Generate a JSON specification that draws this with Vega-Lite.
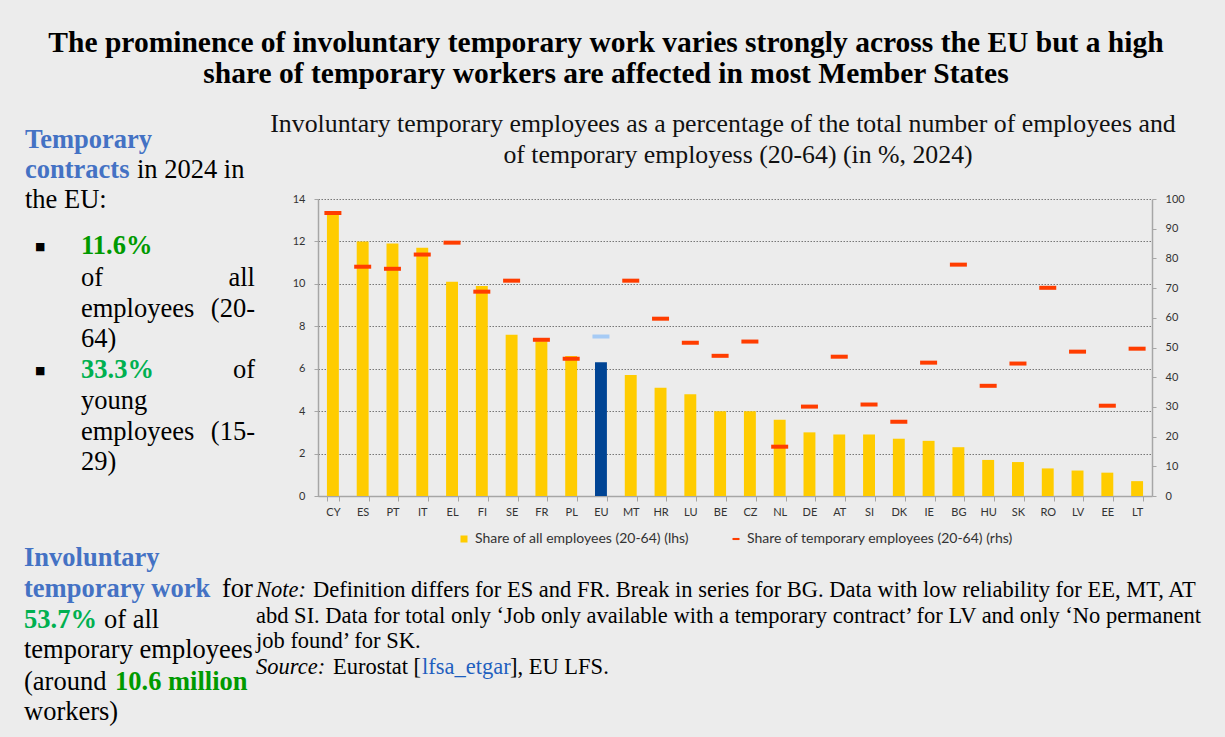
{
  "$schema": "https://vega.github.io/schema/vega-lite/v6.json",
  "width": 834,
  "height": 297,
  "autosize": {"type": "none"},
  "padding": {"left": 318, "top": 199, "right": 73, "bottom": 241},
  "background": "#ECECEC",
  "config": {
    "view": {"stroke": null},
    "axis": {"labelFont": "Lato", "labelFontSize": 11, "labelColor": "#333333", "domainColor": "#A6A6A6", "tickColor": "#A6A6A6", "domainWidth": 1.5, "title": null},
    "legend": {"labelFont": "Lato", "labelFontSize": 14, "labelColor": "#333333", "labelLimit": 0}
  },
  "data": {
    "values": [
      {"country": "CY", "lhs": 13.3, "rhs": 95.3},
      {"country": "ES", "lhs": 12.0, "rhs": 77.2},
      {"country": "PT", "lhs": 11.9, "rhs": 76.5},
      {"country": "IT", "lhs": 11.7, "rhs": 81.3},
      {"country": "EL", "lhs": 10.1, "rhs": 85.3},
      {"country": "FI", "lhs": 9.9, "rhs": 68.8},
      {"country": "SE", "lhs": 7.6, "rhs": 72.5},
      {"country": "FR", "lhs": 7.3, "rhs": 52.6},
      {"country": "PL", "lhs": 6.6, "rhs": 46.2},
      {"country": "EU", "lhs": 6.3, "rhs": 53.7},
      {"country": "MT", "lhs": 5.7, "rhs": 72.5},
      {"country": "HR", "lhs": 5.1, "rhs": 59.7},
      {"country": "LU", "lhs": 4.8, "rhs": 51.6},
      {"country": "BE", "lhs": 4.0, "rhs": 47.2},
      {"country": "CZ", "lhs": 4.0, "rhs": 52.0},
      {"country": "NL", "lhs": 3.6, "rhs": 16.6},
      {"country": "DE", "lhs": 3.0, "rhs": 30.1},
      {"country": "AT", "lhs": 2.9, "rhs": 46.9},
      {"country": "SI", "lhs": 2.9, "rhs": 30.8},
      {"country": "DK", "lhs": 2.7, "rhs": 25.0},
      {"country": "IE", "lhs": 2.6, "rhs": 44.9},
      {"country": "BG", "lhs": 2.3, "rhs": 77.9},
      {"country": "HU", "lhs": 1.7, "rhs": 37.1},
      {"country": "SK", "lhs": 1.6, "rhs": 44.6},
      {"country": "RO", "lhs": 1.3, "rhs": 70.1},
      {"country": "LV", "lhs": 1.2, "rhs": 48.6},
      {"country": "EE", "lhs": 1.1, "rhs": 30.4},
      {"country": "LT", "lhs": 0.7, "rhs": 49.6}
    ]
  },
  "resolve": {"scale": {"y": "independent"}},
  "layer": [
    {
      "mark": {"type": "bar"},
      "encoding": {
        "x": {"field": "country", "type": "nominal", "sort": null,
          "scale": {"paddingInner": 0.6, "paddingOuter": 0.3},
          "axis": {"labelAngle": 0, "tickBand": "extent", "tickSize": 5, "labelPadding": 5}},
        "y": {"field": "lhs", "type": "quantitative", "scale": {"domain": [0, 14]},
          "axis": {"orient": "left", "values": [0, 2, 4, 6, 8, 10, 12, 14], "grid": true, "gridDash": [1.5, 1.5], "gridColor": "#777777", "gridWidth": 1, "tickSize": 4, "labelPadding": 9}},
        "color": {
          "condition": {"test": "datum.country === 'EU'", "value": "#004494"},
          "datum": "Share of all employees (20-64) (lhs)",
          "scale": {"domain": ["Share of all employees (20-64) (lhs)", "Share of temporary employees (20-64) (rhs)"], "range": ["#FFCC00", "#FF3D00"]},
          "legend": {"orient": "none", "legendX": 139, "legendY": 333, "direction": "horizontal", "title": null, "symbolSize": 49, "columnPadding": 40, "labelOffset": 4, "symbolStrokeWidth": 0, "symbolOpacity": 1,
            "encode": {"symbols": {"update": {"shape": {"signal": "datum.value === 'Share of temporary employees (20-64) (rhs)' ? 'M-1,-0.3H1V0.3H-1Z' : 'square'"}}}}}
        }
      }
    },
    {
      "mark": {"type": "tick", "size": 17, "thickness": 4, "opacity": 1},
      "encoding": {
        "x": {"field": "country", "type": "nominal", "sort": null},
        "y": {"field": "rhs", "type": "quantitative", "scale": {"domain": [0, 100]},
          "axis": {"orient": "right", "values": [0, 10, 20, 30, 40, 50, 60, 70, 80, 90, 100], "grid": false, "tickSize": 4, "labelPadding": 9}},
        "color": {
          "condition": {"test": "datum.country === 'EU'", "value": "#A6CBF5"},
          "datum": "Share of temporary employees (20-64) (rhs)"
        }
      }
    },
    {"data": {"values": [{}]}, "mark": {"type": "text", "x": 288, "y": -147, "align": "center", "baseline": "alphabetic", "font": "Liberation Serif", "fontSize": 29.5, "fontWeight": "bold", "color": "#000000", "text": "The prominence of involuntary temporary work varies strongly across the EU but a high"}},
    {"data": {"values": [{}]}, "mark": {"type": "text", "x": 288, "y": -116, "align": "center", "baseline": "alphabetic", "font": "Liberation Serif", "fontSize": 29.5, "fontWeight": "bold", "color": "#000000", "text": "share of temporary workers are affected in most Member States"}},
    {"data": {"values": [{}]}, "mark": {"type": "text", "x": 405, "y": -67, "align": "center", "baseline": "alphabetic", "font": "Liberation Serif", "fontSize": 25.8, "color": "#111111", "text": "Involuntary temporary employees as a percentage of the total number of employees and"}},
    {"data": {"values": [{}]}, "mark": {"type": "text", "x": 420, "y": -36, "align": "center", "baseline": "alphabetic", "font": "Liberation Serif", "fontSize": 25.8, "color": "#111111", "text": "of temporary employess (20-64) (in %, 2024)"}},

    {"data": {"values": [{}]}, "mark": {"type": "text", "x": -293, "y": -51, "align": "left", "baseline": "alphabetic", "font": "Liberation Serif", "fontSize": 26.5, "fontWeight": "bold", "color": "#4472C4", "text": "Temporary"}},
    {"data": {"values": [{}]}, "mark": {"type": "text", "x": -293, "y": -21, "align": "left", "baseline": "alphabetic", "font": "Liberation Serif", "fontSize": 26.5, "fontWeight": "bold", "color": "#4472C4", "text": "contracts"}},
    {"data": {"values": [{}]}, "mark": {"type": "text", "x": -181, "y": -21, "align": "left", "baseline": "alphabetic", "font": "Liberation Serif", "fontSize": 26.5, "color": "#000000", "text": "in 2024 in"}},
    {"data": {"values": [{}]}, "mark": {"type": "text", "x": -293, "y": 9, "align": "left", "baseline": "alphabetic", "font": "Liberation Serif", "fontSize": 26.5, "color": "#000000", "text": "the EU:"}},
    {"data": {"values": [{}]}, "mark": {"type": "text", "x": -283, "y": 48, "align": "left", "baseline": "middle", "font": "DejaVu Sans", "fontSize": 11, "color": "#000000", "text": "■"}},
    {"data": {"values": [{}]}, "mark": {"type": "text", "x": -237, "y": 55, "align": "left", "baseline": "alphabetic", "font": "Liberation Serif", "fontSize": 26.5, "fontWeight": "bold", "color": "#009A00", "text": "11.6%"}},
    {"data": {"values": [{}]}, "mark": {"type": "text", "x": -237, "y": 87, "align": "left", "baseline": "alphabetic", "font": "Liberation Serif", "fontSize": 26.5, "color": "#000000", "text": "of"}},
    {"data": {"values": [{}]}, "mark": {"type": "text", "x": -63, "y": 87, "align": "right", "baseline": "alphabetic", "font": "Liberation Serif", "fontSize": 26.5, "color": "#000000", "text": "all"}},
    {"data": {"values": [{}]}, "mark": {"type": "text", "x": -237, "y": 118, "align": "left", "baseline": "alphabetic", "font": "Liberation Serif", "fontSize": 26.5, "color": "#000000", "text": "employees"}},
    {"data": {"values": [{}]}, "mark": {"type": "text", "x": -63, "y": 118, "align": "right", "baseline": "alphabetic", "font": "Liberation Serif", "fontSize": 26.5, "color": "#000000", "text": "(20-"}},
    {"data": {"values": [{}]}, "mark": {"type": "text", "x": -237, "y": 148, "align": "left", "baseline": "alphabetic", "font": "Liberation Serif", "fontSize": 26.5, "color": "#000000", "text": "64)"}},
    {"data": {"values": [{}]}, "mark": {"type": "text", "x": -283, "y": 172, "align": "left", "baseline": "middle", "font": "DejaVu Sans", "fontSize": 11, "color": "#000000", "text": "■"}},
    {"data": {"values": [{}]}, "mark": {"type": "text", "x": -237, "y": 179, "align": "left", "baseline": "alphabetic", "font": "Liberation Serif", "fontSize": 26.5, "fontWeight": "bold", "color": "#00B050", "text": "33.3%"}},
    {"data": {"values": [{}]}, "mark": {"type": "text", "x": -63, "y": 179, "align": "right", "baseline": "alphabetic", "font": "Liberation Serif", "fontSize": 26.5, "color": "#000000", "text": "of"}},
    {"data": {"values": [{}]}, "mark": {"type": "text", "x": -237, "y": 210, "align": "left", "baseline": "alphabetic", "font": "Liberation Serif", "fontSize": 26.5, "color": "#000000", "text": "young"}},
    {"data": {"values": [{}]}, "mark": {"type": "text", "x": -237, "y": 241, "align": "left", "baseline": "alphabetic", "font": "Liberation Serif", "fontSize": 26.5, "color": "#000000", "text": "employees"}},
    {"data": {"values": [{}]}, "mark": {"type": "text", "x": -63, "y": 241, "align": "right", "baseline": "alphabetic", "font": "Liberation Serif", "fontSize": 26.5, "color": "#000000", "text": "(15-"}},
    {"data": {"values": [{}]}, "mark": {"type": "text", "x": -237, "y": 271, "align": "left", "baseline": "alphabetic", "font": "Liberation Serif", "fontSize": 26.5, "color": "#000000", "text": "29)"}},

    {"data": {"values": [{}]}, "mark": {"type": "text", "x": -294, "y": 367, "align": "left", "baseline": "alphabetic", "font": "Liberation Serif", "fontSize": 26.5, "fontWeight": "bold", "color": "#4472C4", "text": "Involuntary"}},
    {"data": {"values": [{}]}, "mark": {"type": "text", "x": -294, "y": 398, "align": "left", "baseline": "alphabetic", "font": "Liberation Serif", "fontSize": 26.5, "fontWeight": "bold", "color": "#4472C4", "text": "temporary work"}},
    {"data": {"values": [{}]}, "mark": {"type": "text", "x": -96, "y": 398, "align": "left", "baseline": "alphabetic", "font": "Liberation Serif", "fontSize": 26.5, "color": "#000000", "text": "for"}},
    {"data": {"values": [{}]}, "mark": {"type": "text", "x": -294, "y": 429, "align": "left", "baseline": "alphabetic", "font": "Liberation Serif", "fontSize": 26.5, "fontWeight": "bold", "color": "#00B050", "text": "53.7%"}},
    {"data": {"values": [{}]}, "mark": {"type": "text", "x": -214, "y": 429, "align": "left", "baseline": "alphabetic", "font": "Liberation Serif", "fontSize": 26.5, "color": "#000000", "text": "of all"}},
    {"data": {"values": [{}]}, "mark": {"type": "text", "x": -294, "y": 459, "align": "left", "baseline": "alphabetic", "font": "Liberation Serif", "fontSize": 26.5, "color": "#000000", "text": "temporary employees"}},
    {"data": {"values": [{}]}, "mark": {"type": "text", "x": -294, "y": 491, "align": "left", "baseline": "alphabetic", "font": "Liberation Serif", "fontSize": 26.5, "color": "#000000", "text": "(around"}},
    {"data": {"values": [{}]}, "mark": {"type": "text", "x": -203, "y": 491, "align": "left", "baseline": "alphabetic", "font": "Liberation Serif", "fontSize": 26.5, "fontWeight": "bold", "color": "#009A00", "text": "10.6 million"}},
    {"data": {"values": [{}]}, "mark": {"type": "text", "x": -294, "y": 521, "align": "left", "baseline": "alphabetic", "font": "Liberation Serif", "fontSize": 26.5, "color": "#000000", "text": "workers)"}},

    {"data": {"values": [{}]}, "mark": {"type": "text", "x": -62, "y": 398, "align": "left", "baseline": "alphabetic", "font": "Liberation Serif", "fontSize": 22.5, "fontStyle": "italic", "color": "#000000", "text": "Note:"}},
    {"data": {"values": [{}]}, "mark": {"type": "text", "x": -5, "y": 398, "align": "left", "baseline": "alphabetic", "font": "Liberation Serif", "fontSize": 22.5, "color": "#000000", "text": "Definition differs for ES and FR. Break in series for BG. Data with low reliability for EE, MT, AT"}},
    {"data": {"values": [{}]}, "mark": {"type": "text", "x": -62, "y": 424, "align": "left", "baseline": "alphabetic", "font": "Liberation Serif", "fontSize": 22.5, "color": "#000000", "text": "abd SI. Data for total only ‘Job only available with a temporary contract’ for LV and only ‘No permanent"}},
    {"data": {"values": [{}]}, "mark": {"type": "text", "x": -62, "y": 449, "align": "left", "baseline": "alphabetic", "font": "Liberation Serif", "fontSize": 22.5, "color": "#000000", "text": "job found’ for SK."}},
    {"data": {"values": [{}]}, "mark": {"type": "text", "x": -62, "y": 475, "align": "left", "baseline": "alphabetic", "font": "Liberation Serif", "fontSize": 22.5, "fontStyle": "italic", "color": "#000000", "text": "Source:"}},
    {"data": {"values": [{}]}, "mark": {"type": "text", "x": 15, "y": 475, "align": "left", "baseline": "alphabetic", "font": "Liberation Serif", "fontSize": 22.5, "color": "#000000", "text": "Eurostat ["}},
    {"data": {"values": [{}]}, "mark": {"type": "text", "x": 104, "y": 475, "align": "left", "baseline": "alphabetic", "font": "Liberation Serif", "fontSize": 22.5, "color": "#1F5FBF", "text": "lfsa_etgar"}},
    {"data": {"values": [{}]}, "mark": {"type": "text", "x": 192, "y": 475, "align": "left", "baseline": "alphabetic", "font": "Liberation Serif", "fontSize": 22.5, "color": "#000000", "text": "], EU LFS."}}
  ]
}
